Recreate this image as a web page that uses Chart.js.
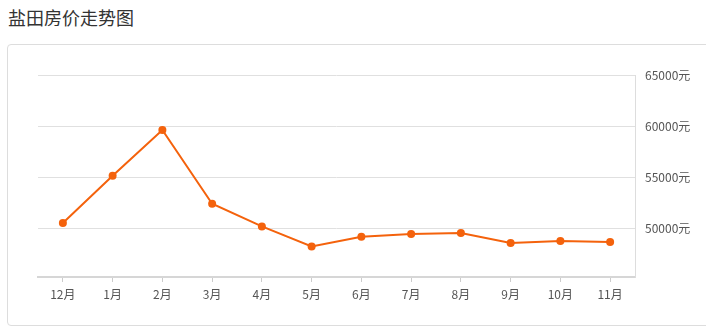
<!DOCTYPE html>
<html>
<head>
<meta charset="utf-8">
<script src="https://cdn.jsdelivr.net/npm/chart.js"></script>
<style>
  html, body { margin: 0; padding: 0; background: #fff; }
  body { width: 706px; height: 329px; overflow: hidden; position: relative; font-family: "Noto Sans CJK SC", sans-serif; }
  .title { position: absolute; left: 8px; top: 4px; font-size: 18px; color: #333; line-height: 26px; }
  .box { position: absolute; left: 7px; top: 44px; width: 740px; height: 280px; border: 1px solid #ddd; border-radius: 4px; }
  #chart { position: absolute; left: 0; top: 0; }
</style>
</head>
<body>
<div class="title">盐田房价走势图</div>
<div class="box"></div>
<canvas id="chart" width="706" height="329"></canvas>
<script>
// months and average price (元/㎡)
const months = ['12月', '1月', '2月', '3月', '4月', '5月', '6月', '7月', '8月', '9月', '10月', '11月'];
const prices = [50490, 55130, 59610, 52380, 50160, 48200, 49150, 49410, 49510, 48530, 48730, 48630];
const yTicks = [50000, 55000, 60000, 65000];

const orange = '#f4620c';

new Chart(document.getElementById('chart'), {
    type: 'line',
    data: {
        labels: months,
        datasets: [{
            data: prices,
            borderColor: orange,
            backgroundColor: orange,
            borderWidth: 2,
            pointRadius: 4,
            pointBorderWidth: 0,
            pointBackgroundColor: orange,
            tension: 0
        }]
    },
    options: {
        responsive: false,
        animation: false,
        layout: { padding: { left: 38, top: 75, right: 0, bottom: 0 } },
        plugins: { legend: { display: false }, tooltip: { enabled: false } },
        scales: {
            x: {
                offset: true,
                grid: { drawOnChartArea: false, tickLength: 5, color: '#ccc' },
                border: { color: '#d6d6d6', width: 2 },
                ticks: { color: '#555', padding: 5, font: { family: 'Noto Sans CJK SC', size: 12 } },
                afterFit: s => { s.height = 329 - 277; }
            },
            y: {
                position: 'right',
                min: 45200,
                max: 65000,
                afterBuildTicks: s => { s.ticks = yTicks.map(v => ({ value: v })); },
                grid: { drawTicks: false, color: '#e0e0e0' },
                border: { color: '#ddd' },
                ticks: {
                    color: '#555',
                    padding: 10,
                    font: { family: 'Noto Sans CJK SC', size: 12 },
                    callback: v => v + '元'
                },
                afterFit: s => { s.width = 706 - 635; }
            }
        }
    }
});
</script>
</body>
</html>
